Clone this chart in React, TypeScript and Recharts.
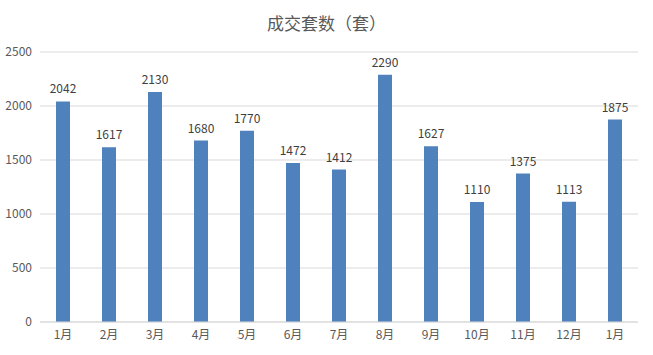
import { BarChart, Bar, XAxis, YAxis, CartesianGrid, LabelList } from 'recharts';

const months = ['1月', '2月', '3月', '4月', '5月', '6月', '7月', '8月', '9月', '10月', '11月', '12月', '1月'];
const deals = [2042, 1617, 2130, 1680, 1770, 1472, 1412, 2290, 1627, 1110, 1375, 1113, 1875];
const yTicks = [0, 500, 1000, 1500, 2000, 2500];

const FONT = '"Noto Sans CJK SC", "Microsoft YaHei", sans-serif';

const App = () => {
  const data = months.map((m, i) => ({ key: `${m}-${i}`, month: m, value: deals[i] }));

  return (
    <div
      style={{
        position: 'absolute',
        left: 0,
        top: 0,
        width: 653,
        height: 355,
        background: '#fff',
        fontFamily: FONT,
      }}
    >
      <div
        style={{
          position: 'absolute',
          top: 10,
          left: 0,
          width: 653,
          textAlign: 'center',
          fontSize: 17,
          color: '#595959',
        }}
      >
        成交套数（套）
      </div>
      <BarChart
        width={653}
        height={355}
        data={data}
        margin={{ top: 52, right: 15, left: 0, bottom: 3 }}
        barCategoryGap={0}
      >
        <CartesianGrid vertical={false} stroke="#d9d9d9" />
        <XAxis
          dataKey="key"
          height={30}
          tickFormatter={(_v, i) => months[i]}
          tickLine={false}
          axisLine={{ stroke: '#d9d9d9' }}
          tick={{ fill: '#595959', fontSize: 12, fontFamily: FONT }}
          interval={0}
        />
        <YAxis
          width={40}
          domain={[0, 2500]}
          ticks={yTicks}
          axisLine={false}
          tickLine={false}
          tickMargin={2}
          tick={{ fill: '#595959', fontSize: 12, fontFamily: FONT }}
        />
        <Bar dataKey="value" fill="#4F81BD" barSize={14} isAnimationActive={false}>
          <LabelList
            dataKey="value"
            position="top"
            offset={8}
            style={{ fill: '#404040', fontSize: 12, fontFamily: FONT }}
          />
        </Bar>
      </BarChart>
    </div>
  );
};

export default App;
